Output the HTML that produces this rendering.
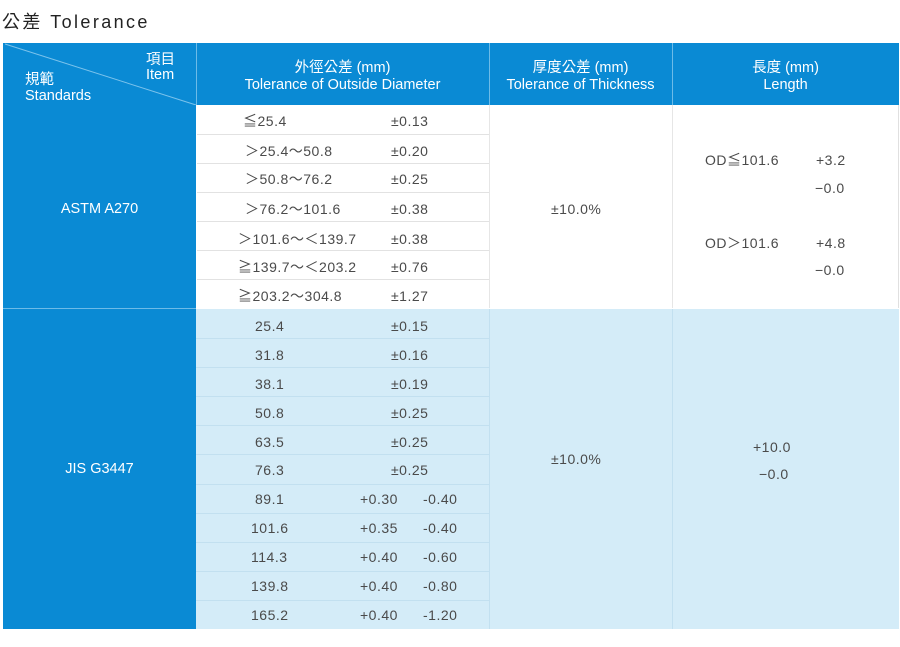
<!DOCTYPE html>
<html><head><meta charset="utf-8"><style>
body{margin:0;width:900px;height:647px;background:#fff;position:relative;overflow:hidden;font-family:"Liberation Sans","Noto Sans CJK TC",sans-serif;}
div{position:absolute;box-sizing:border-box;}
.t{color:#4a4a4a;font-size:14px;line-height:16px;white-space:nowrap;letter-spacing:0.5px;}
.h{color:#fff;font-size:14.5px;line-height:17px;text-align:center;white-space:nowrap;}
.ln{height:1px;background:#e2e2e2;}
.lnb{height:1px;background:#c2e0f0;}
</style></head><body>
<div style="left:2px;top:8px;font-size:18px;color:#222;letter-spacing:2.4px;white-space:nowrap;">公差 Tolerance</div>
<!-- header -->
<div style="left:3px;top:43px;width:896px;height:62px;background:#0a8ad4;"></div>
<div style="left:196px;top:43px;width:1px;height:62px;background:#6cbbe8;"></div>
<div style="left:489px;top:43px;width:1px;height:62px;background:#6cbbe8;"></div>
<div style="left:672px;top:43px;width:1px;height:62px;background:#6cbbe8;"></div>
<svg style="position:absolute;left:0;top:0" width="900" height="120"><line x1="5" y1="44" x2="196" y2="105" stroke="#7cc3ec" stroke-width="1"/></svg>
<div class="h" style="left:146px;top:53px;text-align:left;line-height:15px;">項目<br>Item</div>
<div class="h" style="left:25px;top:72px;text-align:left;line-height:16px;">規範<br>Standards</div>
<div class="h" style="left:196px;top:60px;width:293px;">外徑公差 (mm)<br>Tolerance of Outside Diameter</div>
<div class="h" style="left:489px;top:60px;width:183px;">厚度公差 (mm)<br>Tolerance of Thickness</div>
<div class="h" style="left:672px;top:60px;width:227px;">長度 (mm)<br>Length</div>
<!-- ASTM -->
<div style="left:3px;top:105px;width:193px;height:524px;background:#0a8ad4;"></div>
<div style="left:3px;top:308px;width:193px;height:1px;background:#6cbbe8;"></div>
<div class="h" style="left:3px;top:201px;width:193px;">ASTM A270</div>
<div class="h" style="left:3px;top:461px;width:193px;">JIS G3447</div>
<div style="left:196px;top:105px;width:703px;height:203px;background:#fff;border-right:1px solid #e0e0e0;"></div>
<div style="left:489px;top:105px;width:1px;height:203px;background:#e6e6e6;"></div>
<div style="left:672px;top:105px;width:1px;height:203px;background:#e6e6e6;"></div>
<div class="ln" style="left:197px;top:134px;width:292px;"></div>
<div class="ln" style="left:197px;top:163px;width:292px;"></div>
<div class="ln" style="left:197px;top:192px;width:292px;"></div>
<div class="ln" style="left:197px;top:221px;width:292px;"></div>
<div class="ln" style="left:197px;top:250px;width:292px;"></div>
<div class="ln" style="left:197px;top:279px;width:292px;"></div>
<div class="t" style="left:243px;top:113px;">≦25.4</div><div class="t" style="left:391px;top:113px;">±0.13</div>
<div class="t" style="left:245px;top:143px;">＞25.4～50.8</div><div class="t" style="left:391px;top:143px;">±0.20</div>
<div class="t" style="left:245px;top:171px;">＞50.8～76.2</div><div class="t" style="left:391px;top:171px;">±0.25</div>
<div class="t" style="left:245px;top:201px;">＞76.2～101.6</div><div class="t" style="left:391px;top:201px;">±0.38</div>
<div class="t" style="left:238px;top:231px;">＞101.6～＜139.7</div><div class="t" style="left:391px;top:231px;">±0.38</div>
<div class="t" style="left:238px;top:259px;">≧139.7～＜203.2</div><div class="t" style="left:391px;top:259px;">±0.76</div>
<div class="t" style="left:238px;top:288px;">≧203.2～304.8</div><div class="t" style="left:391px;top:288px;">±1.27</div>
<div class="t" style="left:551px;top:201px;">±10.0%</div>
<div class="t" style="left:705px;top:152px;">OD≦101.6</div><div class="t" style="left:816px;top:152px;">+3.2</div>
<div class="t" style="left:815px;top:180px;">−0.0</div>
<div class="t" style="left:705px;top:235px;">OD＞101.6</div><div class="t" style="left:816px;top:235px;">+4.8</div>
<div class="t" style="left:815px;top:262px;">−0.0</div>
<!-- JIS -->
<div style="left:196px;top:309px;width:703px;height:320px;background:#d4ecf8;"></div>
<div style="left:489px;top:309px;width:1px;height:320px;background:#c2e0f0;"></div>
<div style="left:672px;top:309px;width:1px;height:320px;background:#c2e0f0;"></div>
<div class="lnb" style="left:196px;top:338px;width:293px;"></div>
<div class="lnb" style="left:196px;top:367px;width:293px;"></div>
<div class="lnb" style="left:196px;top:396px;width:293px;"></div>
<div class="lnb" style="left:196px;top:425px;width:293px;"></div>
<div class="lnb" style="left:196px;top:454px;width:293px;"></div>
<div class="lnb" style="left:196px;top:484px;width:293px;"></div>
<div class="lnb" style="left:196px;top:513px;width:293px;"></div>
<div class="lnb" style="left:196px;top:542px;width:293px;"></div>
<div class="lnb" style="left:196px;top:571px;width:293px;"></div>
<div class="lnb" style="left:196px;top:600px;width:293px;"></div>
<div class="t" style="left:255px;top:318px;">25.4</div><div class="t" style="left:391px;top:318px;">±0.15</div>
<div class="t" style="left:255px;top:347px;">31.8</div><div class="t" style="left:391px;top:347px;">±0.16</div>
<div class="t" style="left:255px;top:376px;">38.1</div><div class="t" style="left:391px;top:376px;">±0.19</div>
<div class="t" style="left:255px;top:405px;">50.8</div><div class="t" style="left:391px;top:405px;">±0.25</div>
<div class="t" style="left:255px;top:434px;">63.5</div><div class="t" style="left:391px;top:434px;">±0.25</div>
<div class="t" style="left:255px;top:462px;">76.3</div><div class="t" style="left:391px;top:462px;">±0.25</div>
<div class="t" style="left:255px;top:491px;">89.1</div><div class="t" style="left:360px;top:491px;">+0.30</div><div class="t" style="left:423px;top:491px;">-0.40</div>
<div class="t" style="left:251px;top:520px;">101.6</div><div class="t" style="left:360px;top:520px;">+0.35</div><div class="t" style="left:423px;top:520px;">-0.40</div>
<div class="t" style="left:251px;top:549px;">114.3</div><div class="t" style="left:360px;top:549px;">+0.40</div><div class="t" style="left:423px;top:549px;">-0.60</div>
<div class="t" style="left:251px;top:578px;">139.8</div><div class="t" style="left:360px;top:578px;">+0.40</div><div class="t" style="left:423px;top:578px;">-0.80</div>
<div class="t" style="left:251px;top:607px;">165.2</div><div class="t" style="left:360px;top:607px;">+0.40</div><div class="t" style="left:423px;top:607px;">-1.20</div>
<div class="t" style="left:551px;top:451px;">±10.0%</div>
<div class="t" style="left:753px;top:439px;">+10.0</div>
<div class="t" style="left:759px;top:466px;">−0.0</div>
</body></html>
